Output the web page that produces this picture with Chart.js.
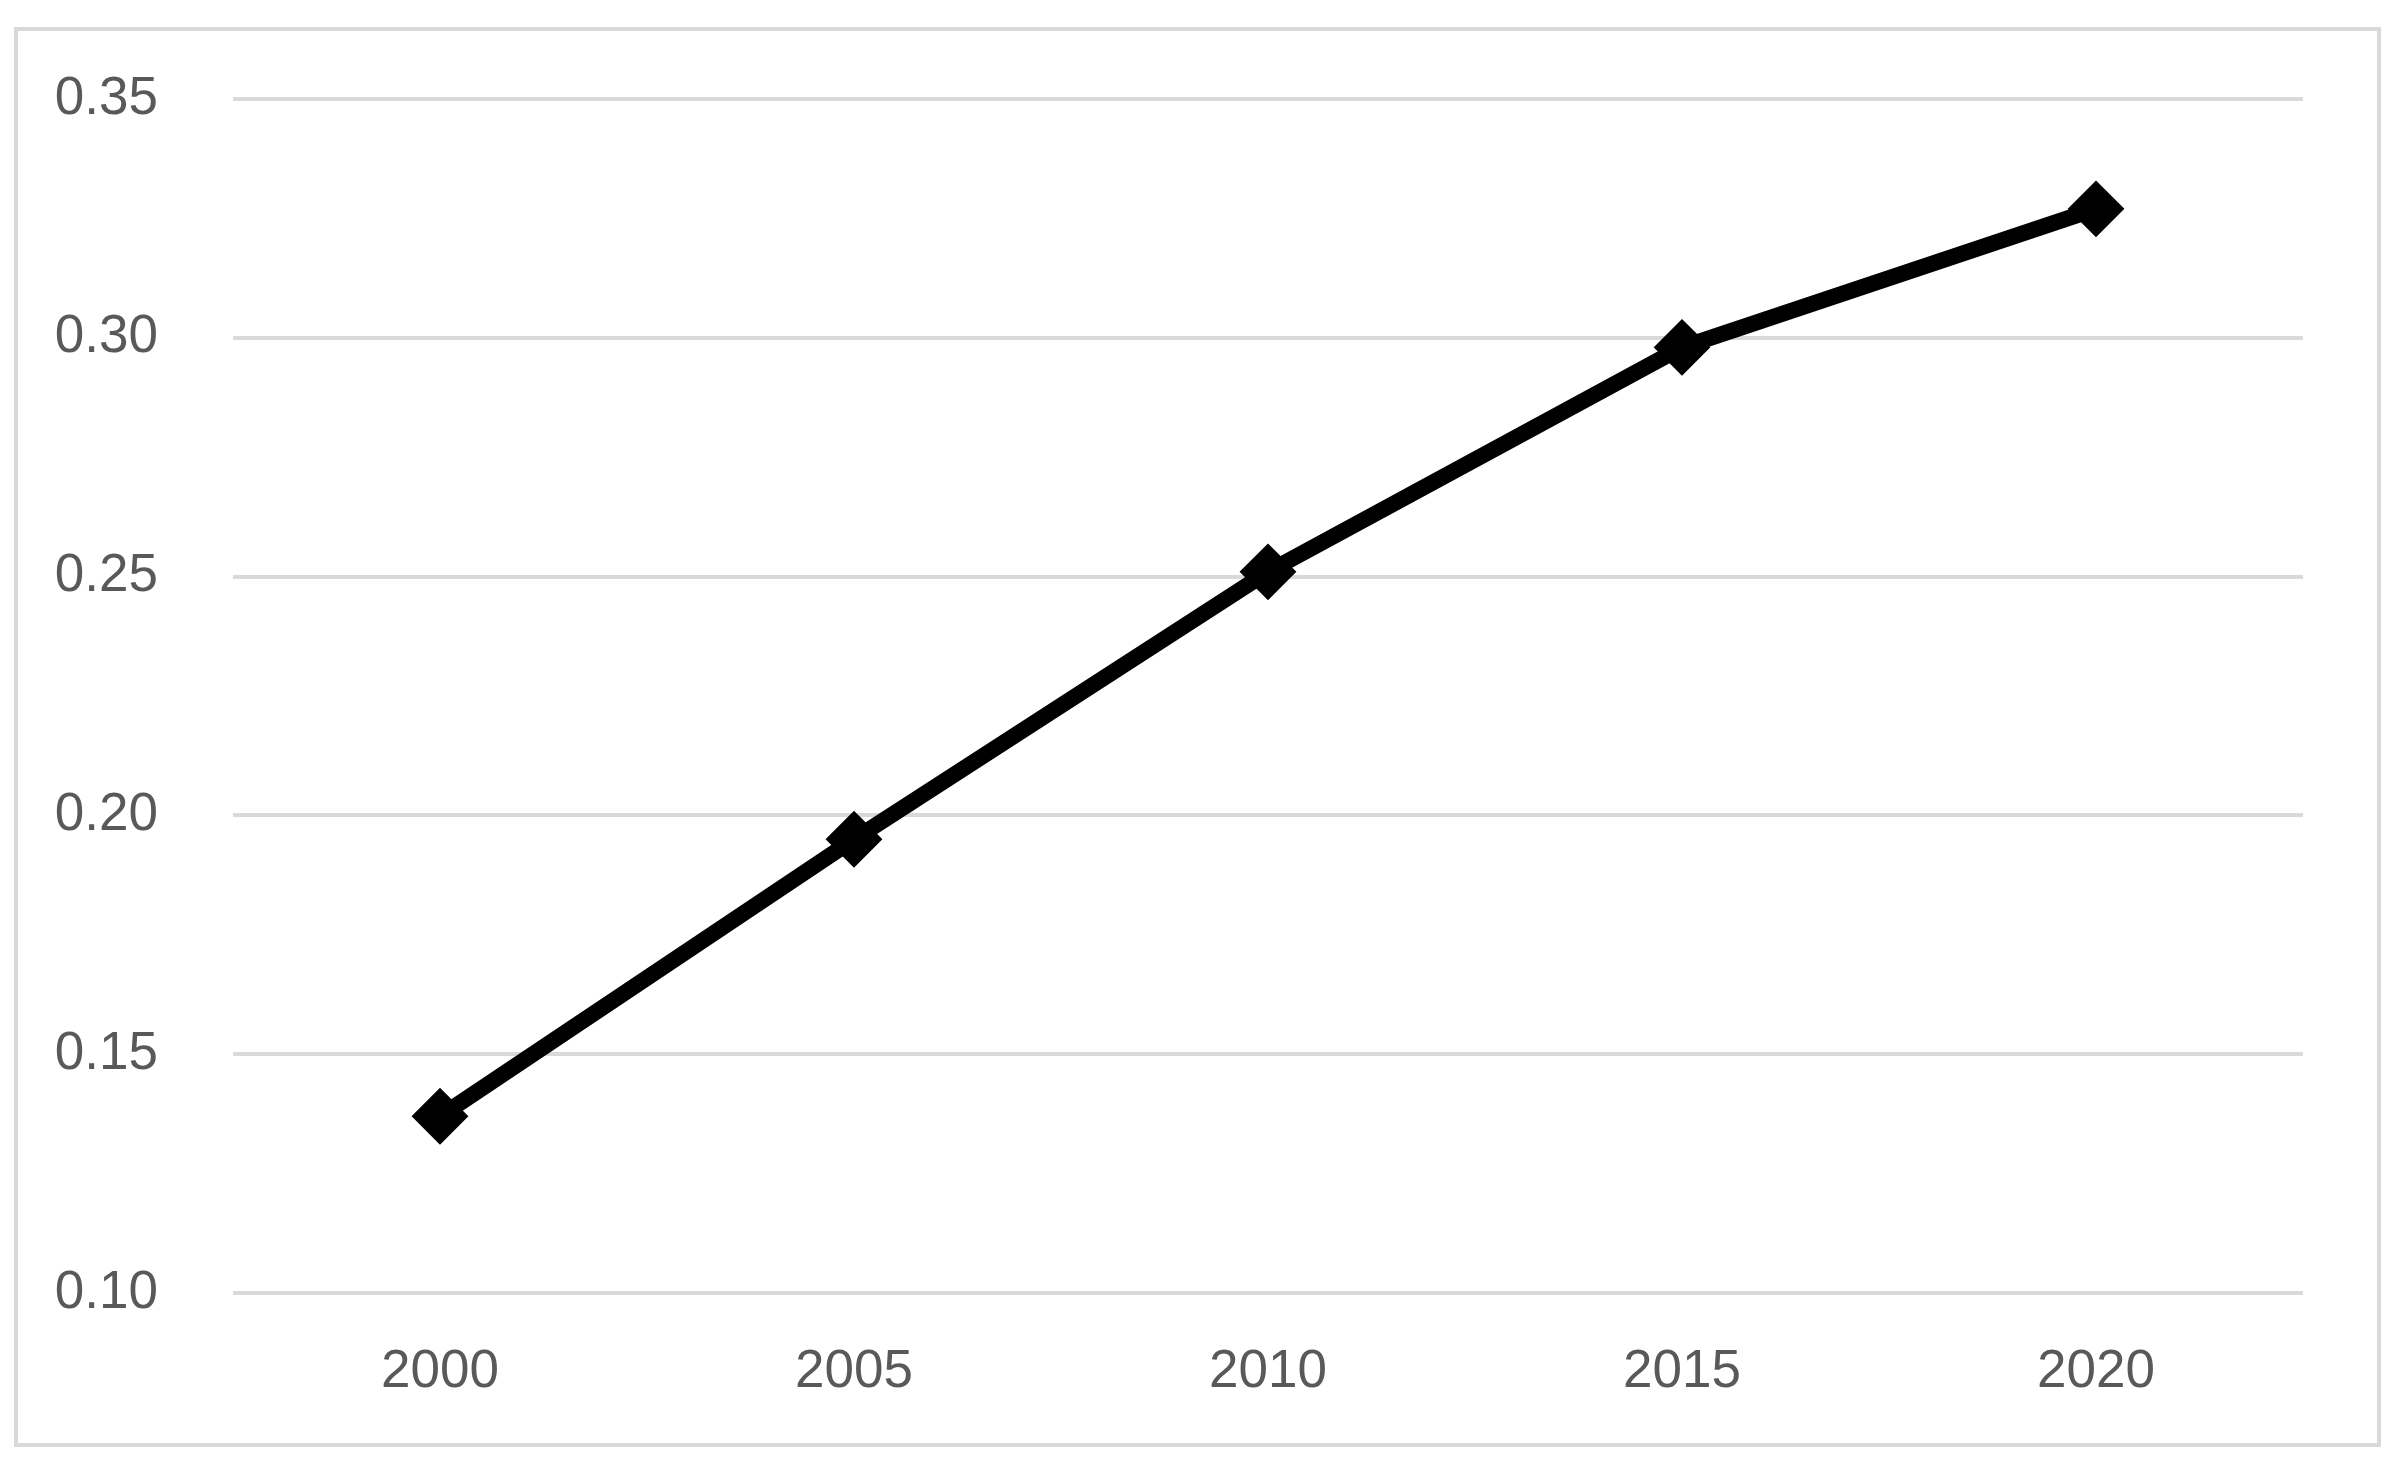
<!DOCTYPE html>
<html>
<head>
<meta charset="utf-8">
<script src="https://cdn.jsdelivr.net/npm/chart.js@4/dist/chart.umd.min.js"></script>
<style>
  body { margin: 0; background: #ffffff; }
  #wrap { position: relative; width: 2403px; height: 1463px; }
  #frame {
    position: absolute; left: 14px; top: 27px;
    width: 2359px; height: 1412px;
    border: 4px solid #d9d9d9;
  }
  #holder { position: absolute; left: 0; top: 0; width: 2403px; height: 1463px; }
</style>
</head>
<body>
<div id="wrap">
  <div id="frame"></div>
  <div id="holder"><canvas id="grap1"></canvas></div>
</div>
<script>
// categories and values
var years = ["2000", "2005", "2010", "2015", "2020"];
var values = [0.137, 0.195, 0.251, 0.298, 0.327];

// value axis
var yMin = 0.10;
var yMax = 0.35;
var yStep = 0.05;

var ctx = document.getElementById('grap1').getContext('2d');
var chart = new Chart(ctx, {
    type: 'line',
    data: {
        labels: years,
        datasets: [
            {
                label: "Serie 1",
                data: values,
                borderColor: '#000000',
                backgroundColor: '#000000',
                borderWidth: 16,
                tension: 0,
                fill: false,
                pointStyle: 'rectRot',
                pointRadius: 27,
                pointHoverRadius: 27,
                pointBackgroundColor: '#000000',
                pointBorderColor: '#000000',
                pointBorderWidth: 2
            }
        ]
    },
    options: {
        responsive: true,
        maintainAspectRatio: false,
        animation: false,
        layout: {
            padding: { top: 99, left: 0, right: 100, bottom: 0 }
        },
        plugins: {
            legend: { display: false },
            title: { display: false },
            tooltip: { enabled: false }
        },
        scales: {
            x: {
                offset: true,
                grid: { display: false, drawTicks: false },
                border: { display: false },
                ticks: {
                    color: '#595959',
                    font: { family: 'Liberation Sans', size: 53 },
                    padding: 48,
                    maxRotation: 0
                },
                afterFit: function (scale) { scale.height = 170; }
            },
            y: {
                min: yMin,
                max: yMax,
                grid: { color: '#d9d9d9', lineWidth: 4, drawTicks: false },
                border: { display: false },
                ticks: {
                    stepSize: yStep,
                    color: '#595959',
                    font: { family: 'Liberation Sans', size: 53 },
                    padding: 75,
                    callback: function (v) { return v.toFixed(2); }
                },
                afterFit: function (scale) {
                    // fixed axis width; label padding shouldn't push the plot down
                    scale.width = 233;
                    scale.paddingTop = 32;
                    scale.paddingBottom = 32;
                }
            }
        }
    }
});
</script>
</body>
</html>
